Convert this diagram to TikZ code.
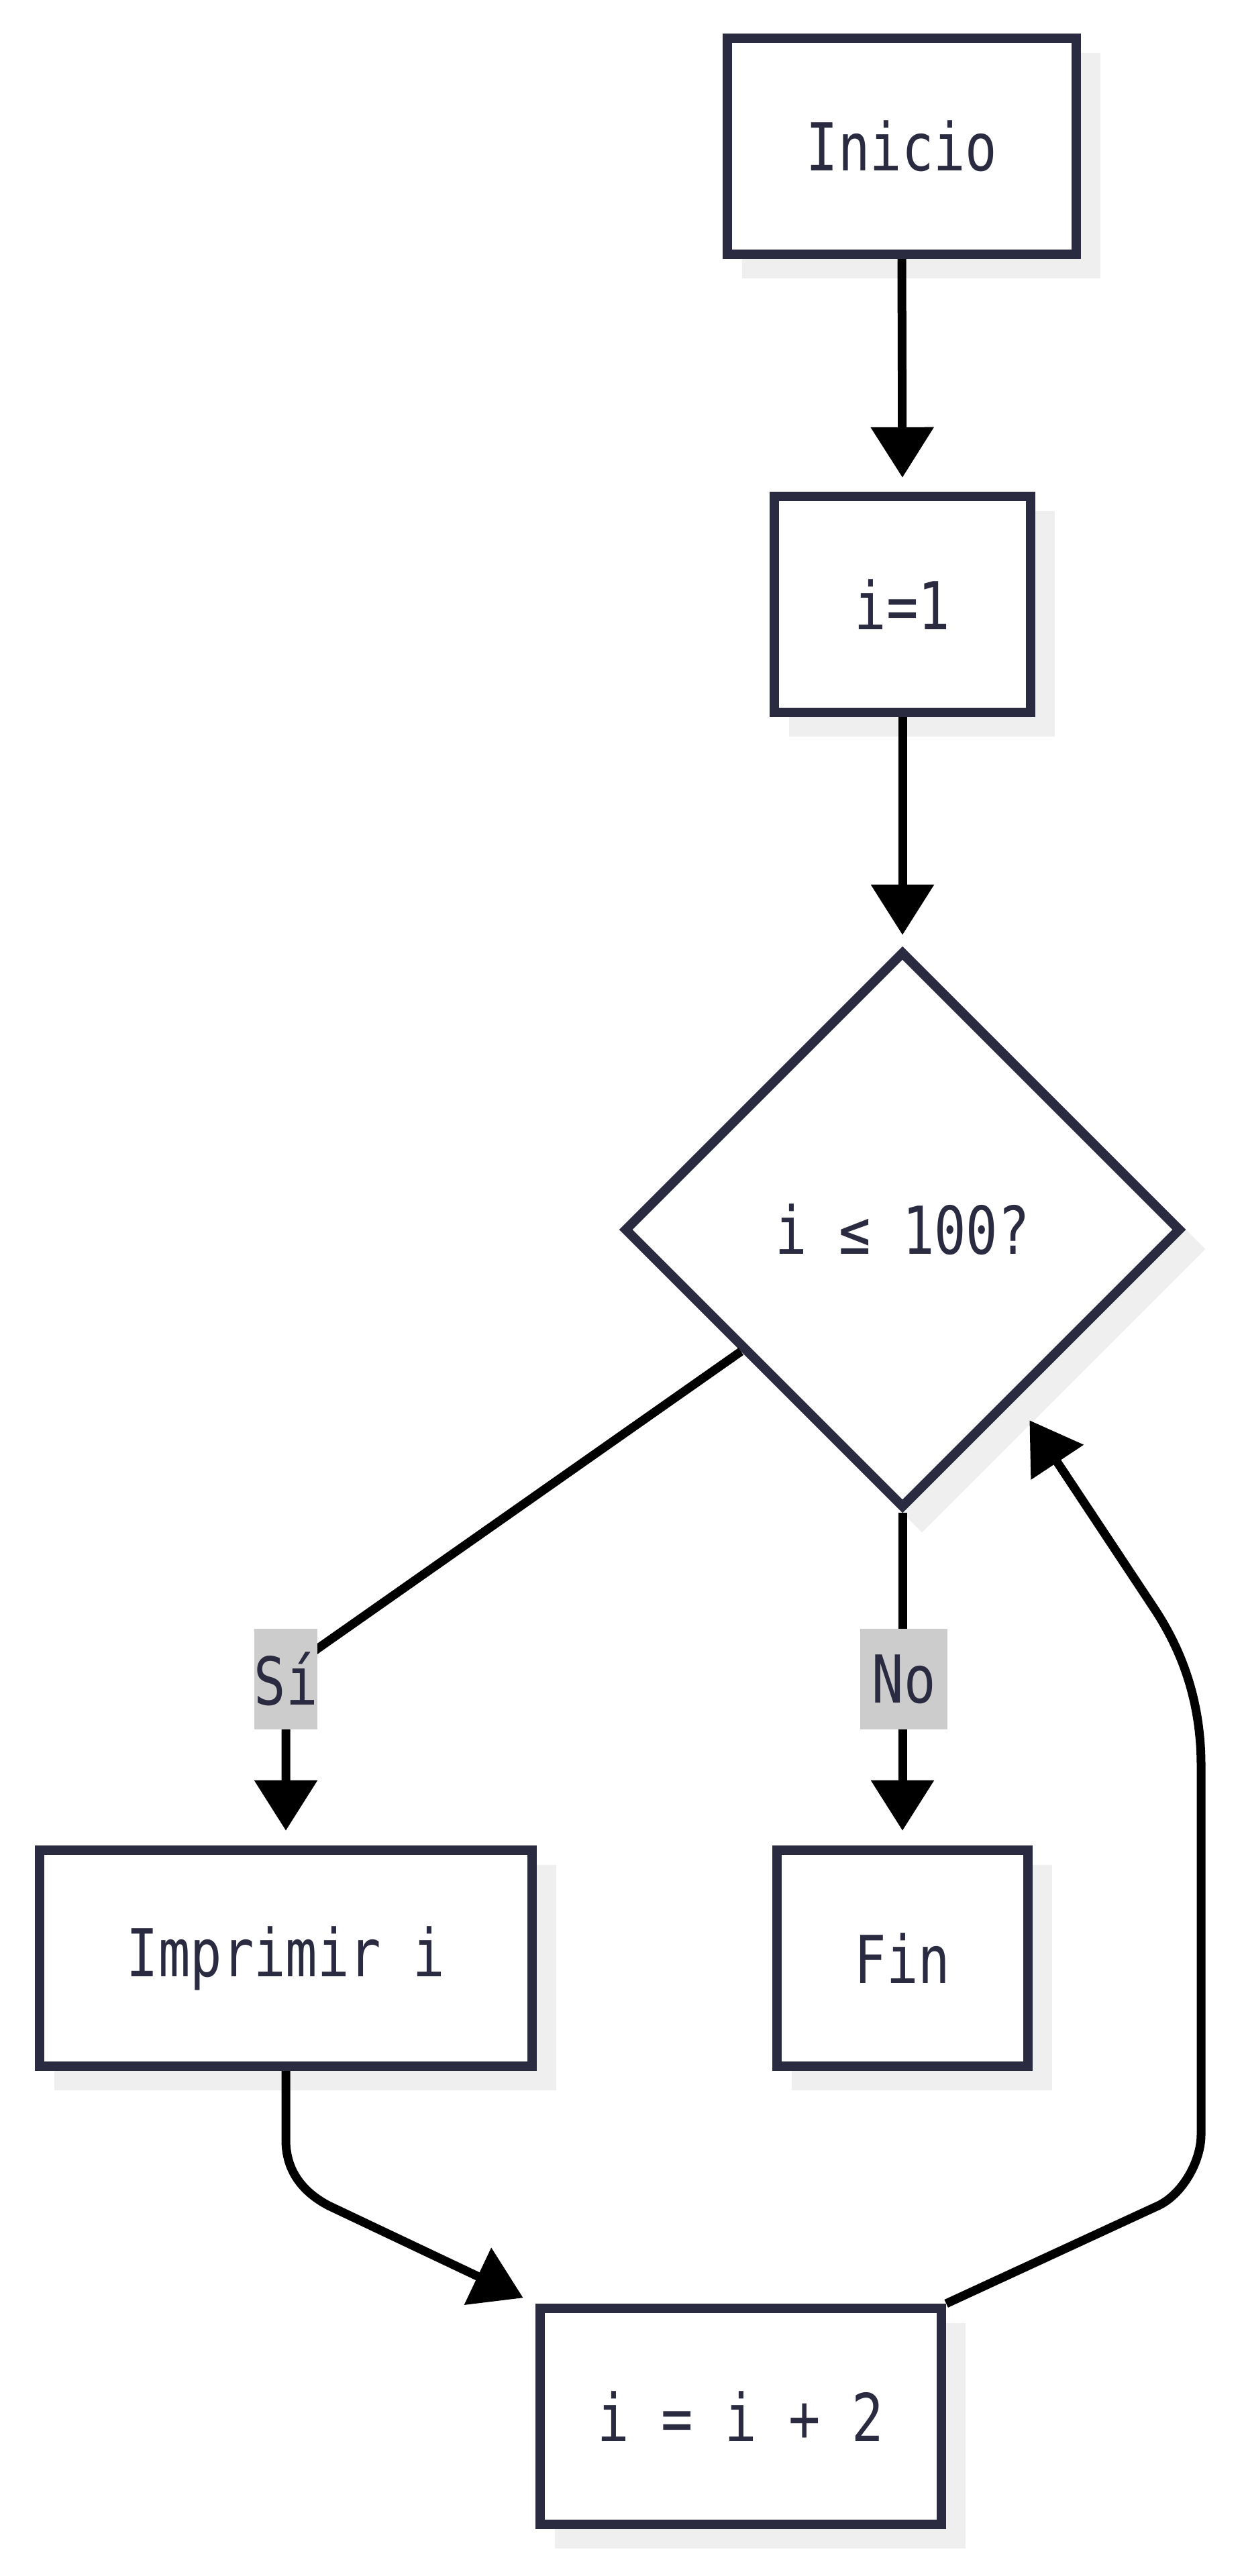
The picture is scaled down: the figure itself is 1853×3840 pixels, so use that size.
\documentclass[tikz,border=0pt]{standalone}
\usepackage{fontspec}
\newfontfamily\flowfont[FakeStretch=0.8]{DejaVu Sans Mono}
\usetikzlibrary{arrows.meta,shapes.geometric,calc}
\definecolor{nodeline}{HTML}{2A2A40}
\definecolor{nodetext}{HTML}{2A2A40}
\definecolor{shadowc}{HTML}{EFEFEF}
\definecolor{labelbg}{HTML}{CCCCCC}
\newcommand{\flowtext}{\flowfont\fontsize{28}{34}\selectfont}
\begin{document}
\begin{tikzpicture}[x=0.01cm, y=-0.01cm,
  shadowed/.style={preaction={draw=shadowc, fill=shadowc,
      transform canvas={xshift=0.29cm, yshift=-0.29cm}}},
  proc/.style={rectangle, draw=nodeline, line width=0.14cm, fill=white,
      inner sep=0pt, text=nodetext, font=\flowtext,
      minimum height=3.22cm, shadowed},
  decision/.style={diamond, aspect=1, draw=nodeline, line width=0.14cm,
      fill=white, inner sep=0pt, text=nodetext, font=\flowtext,
      minimum width=8.3cm, minimum height=8.3cm, shadowed},
  edgelabel/.style={fill=labelbg, inner sep=0pt, minimum height=1.5cm,
      text=nodetext, font=\flowtext},
  conn/.style={draw=black, line width=0.13cm,
      -{Triangle[length=0.75cm, width=0.91cm]}},
]
\fill[white] (0,0) rectangle (1853,3840);
\useasboundingbox (0,0) rectangle (1853,3840);

% process steps and the decision
\node[proc, minimum width=5.19cm] (inicio) at (1344,218) {Inicio};
\node[proc, minimum width=3.81cm] (i1) at (1345,901) {i=1};
\node[decision] (dec) at (1345,1833) {i ≤ 100?};
\node[proc, minimum width=7.34cm] (imp) at (426,2919) {Imprimir i};
\node[proc, minimum width=3.74cm] (fin) at (1345,2919) {Fin};
\node[proc, minimum width=5.98cm] (inc) at (1104,3602) {i = i + 2};

% connectors
\draw[conn, shorten >=0.21cm] (inicio.south) -- (i1.north);
\draw[conn, shorten >=0.17cm] (i1.south) -- (dec.north);

\coordinate (siStart) at ($(dec.west)!0.43!(dec.south)$);
\draw[conn, shorten >=0.22cm] (siStart) -- (477,2455)
  .. controls (448,2475) and (426,2505) .. (426,2540) -- (imp.north);

\draw[conn, shorten >=0.22cm] (dec.south) -- (fin.north);

\draw[conn, shorten >=0.2cm] (imp.south) -- (426,3190)
  .. controls (426,3235) and (450,3267) .. (490,3288) -- (inc.north west);

\coordinate (loopEnd) at ($(dec.east)!0.6!(dec.south)$);
\draw[conn, shorten >=0.37cm] (inc.north east) -- (1726,3288)
  .. controls (1762,3271) and (1790,3222) .. (1790,3182)
  -- (1790,2632)
  .. controls (1790,2542) and (1765,2466) .. (1721,2399)
  -- (loopEnd);

% branch labels
\node[edgelabel, minimum width=0.93cm] (siLabel) at (426,2503) {Sí};
\node[edgelabel, minimum width=1.29cm] (noLabel) at (1347,2503) {No};
\end{tikzpicture}
\end{document}
